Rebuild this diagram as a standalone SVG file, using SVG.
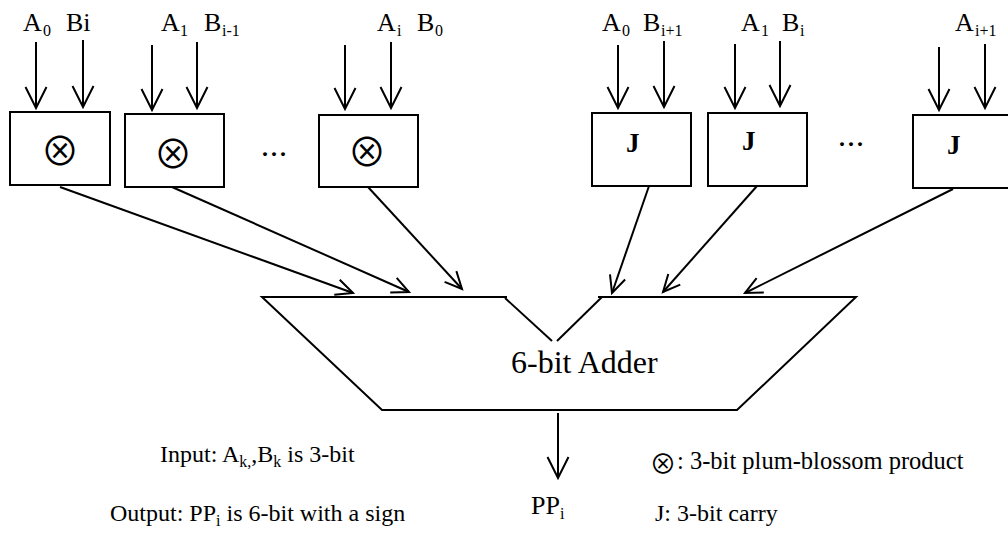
<svg xmlns="http://www.w3.org/2000/svg" width="1008" height="541" viewBox="0 0 1008 541">
  <style>
    .box { fill: #fff; stroke: #000; stroke-width: 2; }
    .wire { fill: none; stroke: #000; stroke-width: 2; }
    .lbl { font-family: "Liberation Serif", "Times New Roman", serif; font-size: 24px; fill: #000; stroke: none; }
    .top { font-size: 26px; }
    .sub { font-size: 16px; }
    .op { font-family: "Noto Sans CJK JP", "DejaVu Sans", sans-serif; font-weight: 350; font-size: 39px; fill: #000; text-anchor: middle; }
    .j { font-family: "Liberation Serif", serif; font-size: 27px; font-weight: bold; fill: #000; }
    .dots { font-family: "Liberation Serif", serif; font-size: 24px; font-weight: bold; letter-spacing: 3px; fill: #000; }
  </style>
  <defs>
    <marker id="headIn" markerUnits="userSpaceOnUse" markerWidth="26" markerHeight="26" viewBox="0 0 26 26" refX="23" refY="13" orient="auto">
      <path d="M2,2.5 L23,13 L2,23.5" fill="none" stroke="#000" stroke-width="2"/>
    </marker>
    <marker id="headDiag" markerUnits="userSpaceOnUse" markerWidth="22" markerHeight="22" viewBox="0 0 22 22" refX="19" refY="11" orient="auto">
      <path d="M2,3 L19,11 L2,19" fill="none" stroke="#000" stroke-width="2"/>
    </marker>
  </defs>

  <!-- input labels -->
  <g id="labels">
    <text class="lbl top"><tspan x="23" y="31">A</tspan><tspan class="sub" x="43" y="36">0</tspan><tspan x="66" y="31">Bi</tspan></text>
    <text class="lbl top"><tspan x="161" y="31">A</tspan><tspan class="sub" x="180" y="36">1</tspan><tspan x="204" y="31">B</tspan><tspan class="sub" x="222" y="36">i-1</tspan></text>
    <text class="lbl top"><tspan x="377" y="31">A</tspan><tspan class="sub" x="397" y="36">i</tspan><tspan x="417" y="31">B</tspan><tspan class="sub" x="435" y="36">0</tspan></text>
    <text class="lbl top"><tspan x="602" y="31">A</tspan><tspan class="sub" x="622" y="36">0</tspan><tspan x="643" y="31">B</tspan><tspan class="sub" x="661" y="36">i+1</tspan></text>
    <text class="lbl top"><tspan x="741" y="31">A</tspan><tspan class="sub" x="761" y="36">1</tspan><tspan x="782" y="31">B</tspan><tspan class="sub" x="800" y="36">i</tspan></text>
    <text class="lbl top"><tspan x="955" y="31">A</tspan><tspan class="sub" x="975" y="36">i+1</tspan></text>
  </g>

  <!-- input arrows into the cells -->
  <g id="inputs" class="wire">
    <line x1="36" y1="42" x2="36" y2="108" marker-end="url(#headIn)"/>
    <line x1="83" y1="40" x2="83" y2="107" marker-end="url(#headIn)"/>
    <line x1="152" y1="45" x2="152" y2="110" marker-end="url(#headIn)"/>
    <line x1="197" y1="42" x2="197" y2="108" marker-end="url(#headIn)"/>
    <line x1="345" y1="45" x2="345" y2="109" marker-end="url(#headIn)"/>
    <line x1="391" y1="42" x2="391" y2="108" marker-end="url(#headIn)"/>
    <line x1="618" y1="45" x2="618" y2="108" marker-end="url(#headIn)"/>
    <line x1="664" y1="41" x2="664" y2="107" marker-end="url(#headIn)"/>
    <line x1="735" y1="44" x2="735" y2="108" marker-end="url(#headIn)"/>
    <line x1="780" y1="41" x2="780" y2="106" marker-end="url(#headIn)"/>
    <line x1="939" y1="47" x2="939" y2="110" marker-end="url(#headIn)"/>
    <line x1="985" y1="44" x2="985" y2="108" marker-end="url(#headIn)"/>
  </g>

  <!-- plum-blossom product cells -->
  <g id="mul0"><rect class="box" x="10" y="112" width="100" height="73"/><text class="op" x="60" y="165">⊗</text></g>
  <g id="mul1"><rect class="box" x="125" y="114" width="99" height="73"/><text class="op" x="173" y="168">⊗</text></g>
  <g id="mulI"><rect class="box" x="319" y="115" width="99" height="72"/><text class="op" x="367" y="166">⊗</text></g>
  <text class="dots" x="262" y="156">...</text>

  <!-- carry cells -->
  <g id="carry0"><rect class="box" x="592" y="113" width="99" height="73"/><text class="j" x="626" y="152">J</text></g>
  <g id="carry1"><rect class="box" x="708" y="113" width="99" height="73"/><text class="j" x="742" y="150">J</text></g>
  <g id="carryI"><rect class="box" x="913" y="115" width="100" height="73"/><text class="j" x="947" y="154">J</text></g>
  <text class="dots" x="839" y="146">...</text>

  <!-- 6-bit adder -->
  <g id="adder" class="wire">
    <polyline points="507,297 262,297 382,410 737,410 856,297 598,297"/>
    <line x1="505" y1="298" x2="552" y2="341"/>
    <line x1="557" y1="341" x2="602" y2="297"/>
    <text class="lbl" x="511" y="373" style="font-size:32px">6-bit Adder</text>
  </g>

  <!-- cell outputs into the adder, and adder output -->
  <g id="connectors" class="wire">
    <line x1="60" y1="187" x2="353" y2="293" marker-end="url(#headDiag)"/>
    <line x1="172" y1="187" x2="409" y2="292" marker-end="url(#headDiag)"/>
    <line x1="368" y1="187" x2="462" y2="289" marker-end="url(#headDiag)"/>
    <line x1="649" y1="186" x2="612" y2="293" marker-end="url(#headDiag)"/>
    <line x1="757" y1="186" x2="663" y2="292" marker-end="url(#headDiag)"/>
    <line x1="953" y1="189" x2="745" y2="293" marker-end="url(#headDiag)"/>
    <line x1="558" y1="413" x2="558" y2="478" marker-end="url(#headIn)"/>
  </g>

  <!-- output and notes -->
  <g id="notes">
    <text class="lbl" style="font-size:26px"><tspan x="531" y="514">PP</tspan><tspan class="sub" dy="5">i</tspan></text>
    <text class="lbl" x="160" y="462">Input: A<tspan class="sub" dy="5">k,</tspan><tspan dy="-5">,B</tspan><tspan class="sub" dy="5">k</tspan><tspan dy="-5"> is 3-bit</tspan></text>
    <text class="lbl" x="110" y="521">Output: PP<tspan class="sub" dy="5">i</tspan><tspan dy="-5"> is 6-bit with a sign</tspan></text>
    <text class="op" x="663" y="474" style="font-size:27px">⊗</text>
    <text class="lbl" x="677" y="469" style="font-size:24.5px">: 3-bit plum-blossom product</text>
    <text class="lbl" x="655" y="521">J: 3-bit carry</text>
  </g>
</svg>
